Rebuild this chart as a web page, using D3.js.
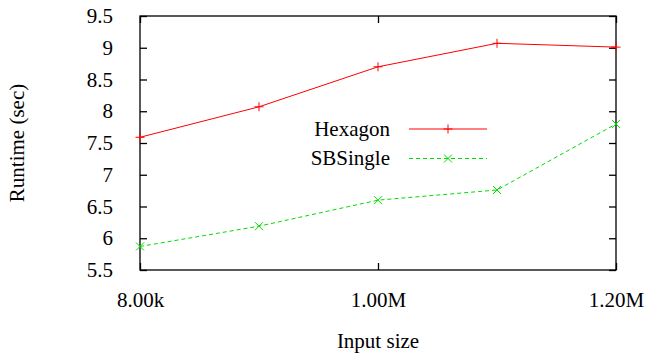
<!DOCTYPE html>
<html>
  <head>
    <meta charset="utf-8">
    <title>Runtime</title>
    <script src="https://cdn.jsdelivr.net/npm/d3@7"></script>
    <style>
      body { margin: 0; background: #fff; }
    </style>
  </head>
  <body>
    <svg width="649" height="358" id="mainsvg"></svg>
    <script>
      // data
      const inputSizes = [800000, 900000, 1000000, 1100000, 1200000];
      const hexagon = [7.59, 8.07, 8.70, 9.07, 9.01];
      const sbSingle = [5.87, 6.19, 6.60, 6.76, 7.80];
      const xTickValues = [800000, 1000000, 1200000];
      const xTickLabels = ['8.00k', '1.00M', '1.20M'];
      const yTickValues = [5.5, 6, 6.5, 7, 7.5, 8, 8.5, 9, 9.5];
      const seriesNames = ['Hexagon', 'SBSingle'];

      const fontStack = "'Liberation Serif', 'DejaVu Serif', 'Noto Serif', 'Times New Roman', Times, serif";

      const svg = d3.select('#mainsvg')
        .attr('font-family', fontStack).attr('font-size', 21);
      const margin = {top: 16, right: 33, bottom: 88, left: 140};
      const innerWidth = +svg.attr('width') - margin.left - margin.right;
      const innerHeight = +svg.attr('height') - margin.top - margin.bottom;

      const xScale = d3.scaleLinear().domain([800000, 1200000]).range([0, innerWidth]);
      const yScale = d3.scaleLinear().domain([5.5, 9.5]).range([innerHeight, 0]);

      const g = svg.append('g').attr('transform', `translate(${margin.left}, ${margin.top})`);

      // frame
      g.append('rect').attr('width', innerWidth).attr('height', innerHeight)
        .attr('fill', 'none').attr('stroke', '#000').attr('stroke-width', 1.3);

      // ticks (gnuplot style: inward, mirrored)
      const tickLen = 7;
      const yAxisL = g.append('g').call(d3.axisLeft(yScale).tickValues(yTickValues)
        .tickSize(-tickLen).tickPadding(tickLen + 20).tickFormat(d3.format('')));
      const yAxisR = g.append('g').attr('transform', `translate(${innerWidth},0)`)
        .call(d3.axisRight(yScale).tickValues(yTickValues).tickSize(-tickLen).tickFormat(''));
      const xAxisB = g.append('g').attr('transform', `translate(0,${innerHeight})`)
        .call(d3.axisBottom(xScale).tickValues(xTickValues).tickSize(-tickLen)
          .tickPadding(tickLen + 15).tickFormat((d, i) => xTickLabels[i]));
      const xAxisT = g.append('g')
        .call(d3.axisTop(xScale).tickValues(xTickValues).tickSize(-tickLen).tickFormat(''));
      [yAxisL, yAxisR, xAxisB, xAxisT].forEach(a => {
        a.attr('font-family', fontStack).attr('font-size', 21);
        a.select('.domain').remove();
        a.selectAll('line').attr('stroke', '#000').attr('stroke-width', 1.3);
        a.selectAll('text').attr('fill', '#000');
      });
      xAxisB.selectAll('text').attr('dy', '0.71em');

      // axis titles
      svg.append('text').attr('text-anchor', 'middle')
        .attr('transform', `translate(24, ${margin.top + innerHeight / 2}) rotate(-90)`)
        .text('Runtime (sec)');
      svg.append('text').attr('text-anchor', 'middle')
        .attr('x', margin.left + innerWidth / 2).attr('y', 348)
        .text('Input size');

      const line = d3.line().x((d, i) => xScale(inputSizes[i])).y(d => yScale(d));

      const plusPath = s => `M${-s},0H${s}M0,${-s}V${s}`;
      const crossPath = s => `M${-s},${-s}L${s},${s}M${-s},${s}L${s},${-s}`;

      const series = [
        {name: seriesNames[0], values: hexagon, color: '#ff0000', dash: null, marker: plusPath(4.5)},
        {name: seriesNames[1], values: sbSingle, color: '#00dd00', dash: '4,3', marker: crossPath(4)}
      ];

      series.forEach(s => {
        g.append('path').datum(s.values)
          .attr('fill', 'none').attr('stroke', s.color).attr('stroke-width', 1)
          .attr('stroke-dasharray', s.dash).attr('d', line);
        g.selectAll(null).data(s.values).enter().append('path')
          .attr('transform', (d, i) => `translate(${xScale(inputSizes[i])},${yScale(d)})`)
          .attr('d', s.marker).attr('fill', 'none').attr('stroke', s.color).attr('stroke-width', 1);
      });

      // legend
      const legend = svg.append('g').attr('transform', 'translate(390, 129)');
      series.forEach((s, i) => {
        const row = legend.append('g').attr('transform', `translate(0, ${i * 29.5})`);
        row.append('text').attr('text-anchor', 'end').attr('dy', '0.32em').text(s.name);
        row.append('line').attr('x1', 19).attr('x2', 97)
          .attr('stroke', s.color).attr('stroke-width', 1).attr('stroke-dasharray', s.dash);
        row.append('path').attr('transform', 'translate(58,0)').attr('d', s.marker)
          .attr('fill', 'none').attr('stroke', s.color).attr('stroke-width', 1);
      });
    </script>
  </body>
</html>
